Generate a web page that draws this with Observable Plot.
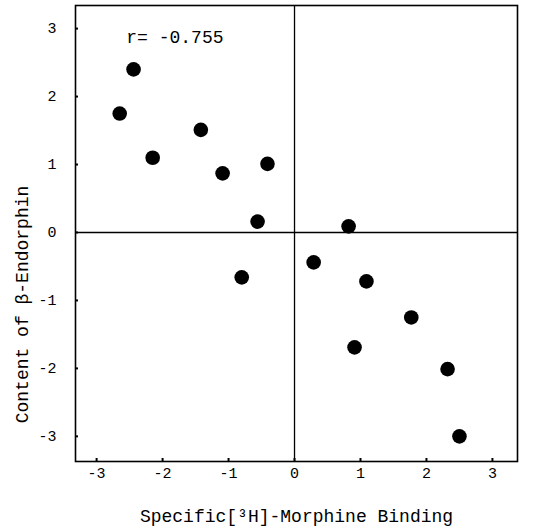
<!DOCTYPE html>
<html>
<head>
<meta charset="utf-8">
<script src="https://cdn.jsdelivr.net/npm/d3@7"></script>
<script src="https://cdn.jsdelivr.net/npm/@observablehq/plot@0.6"></script>
<style>
  html, body { margin: 0; padding: 0; background: #fff; }
  #chart svg { display: block; }
</style>
</head>
<body>
<div id="chart"></div>
<script>
// Data
const binding = [-2.44, -2.65, -2.15, -1.42, -1.09, -0.41, -0.56, 0.82, 0.29, -0.80, 1.09, 1.77, 0.91, 2.32, 2.50];
const endorphin = [2.40, 1.75, 1.10, 1.51, 0.87, 1.01, 0.16, 0.09, -0.44, -0.66, -0.72, -1.25, -1.69, -2.01, -3.00];
const xTicks = [-3, -2, -1, 0, 1, 2, 3];
const yTicks = [-3, -2, -1, 0, 1, 2, 3];
const rLabel = ["r= -0.755"];
const xLabel = "Specific[³H]-Morphine Binding";
const yLabel = "Content of β-Endorphin";

const points = binding.map((x, i) => ({x, y: endorphin[i]}));
const font = "'Liberation Mono', 'DejaVu Sans Mono', monospace";
const fmt = d => String(d).replace("−", "-");

const chart = Plot.plot({
  width: 543,
  height: 531,
  marginLeft: 75,
  marginRight: 26,
  marginTop: 5,
  marginBottom: 70,
  style: {fontFamily: font, color: "#000", background: "#fff"},
  x: {domain: [-3.32, 3.38]},
  y: {domain: [-3.37, 3.34]},
  marks: [
    Plot.frame({stroke: "#000", strokeWidth: 1.6}),
    Plot.ruleX([0], {stroke: "#000", strokeWidth: 1.3}),
    Plot.ruleY([0], {stroke: "#000", strokeWidth: 1.3}),
    // tick nubs inside the frame
    Plot.axisX(xTicks, {anchor: "bottom", tickSize: 3, dy: -3, text: null, label: null, strokeWidth: 2}),
    Plot.axisY(yTicks, {anchor: "left", tickSize: 3, dx: 3, text: null, label: null, strokeWidth: 2}),
    // tick labels
    Plot.axisX(xTicks, {anchor: "bottom", tickSize: 0, tickPadding: 6, fontSize: 15, label: null, tickFormat: fmt}),
    Plot.axisY(yTicks, {anchor: "left", tickSize: 0, tickPadding: 19, fontSize: 15, label: null, tickFormat: fmt}),
    Plot.dot(points, {x: "x", y: "y", r: 7.3, fill: "#000"}),
    Plot.text(rLabel, {x: -2.55, y: 2.88, text: d => d, textAnchor: "start", fontSize: 18}),
    Plot.text([xLabel], {frameAnchor: "bottom", text: d => d, textAnchor: "middle", dy: 60, fontSize: 18}),
    Plot.text([yLabel], {frameAnchor: "left", text: d => d, textAnchor: "middle", rotate: -90, dx: -53, dy: 71, fontSize: 18})
  ]
});
document.getElementById("chart").append(chart);
</script>
</body>
</html>
